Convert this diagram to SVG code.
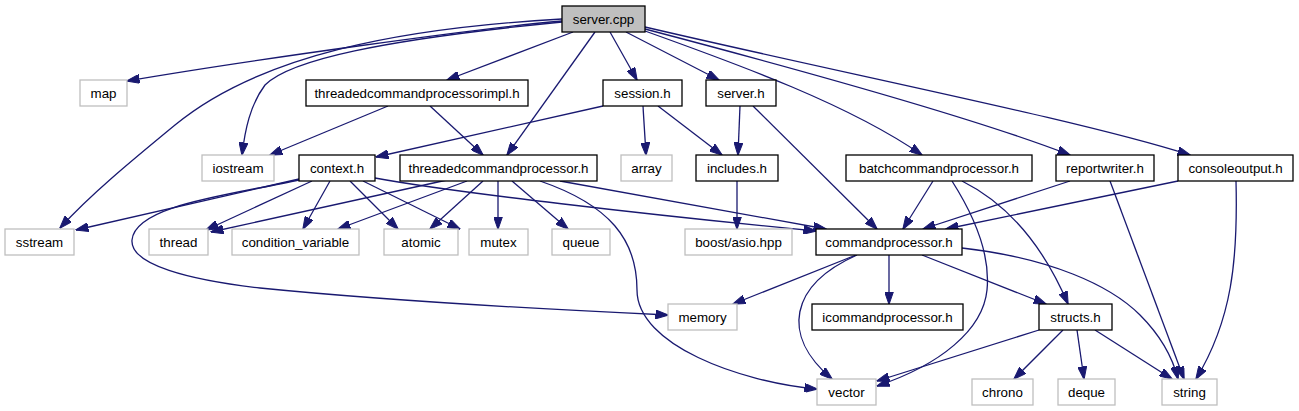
<svg xmlns="http://www.w3.org/2000/svg" width="1299" height="411" viewBox="0 0 1299 411">
<style>
.e{fill:none;stroke:#191970;stroke-width:1.3;marker-end:url(#ah)}
.n rect{fill:#ffffff;stroke:#000000;stroke-width:1.3}
.s rect{fill:#ffffff;stroke:#bfbfbf;stroke-width:1.3}
.r rect{fill:#bfbfbf;stroke:#000000;stroke-width:1.3}
text{font-family:"Liberation Sans",Arial,sans-serif;font-size:13.33px;fill:#000000;text-anchor:middle}
</style>
<defs>
<marker id="ah" viewBox="0 0 13 9" refX="12.5" refY="4.5" markerWidth="13" markerHeight="9" markerUnits="userSpaceOnUse" orient="auto">
<path d="M0,0 L13,4.5 L0,9 z" fill="#191970" stroke="#191970" stroke-width="1"/>
</marker>
</defs>
<rect width="1299" height="411" fill="#ffffff"/>
<g id="connectors">
<path class="e" d="M562,21 C480,28 250,60 127,81"/>
<path class="e" d="M562,19 C400,28 260,55 175,125 C130,162 90,195 60,228"/>
<path class="e" d="M562,22 C380,40 290,60 265,85 C250,105 245,130 242,155"/>
<path class="e" d="M573,32 L447,80"/>
<path class="e" d="M595,32 L507,155"/>
<path class="e" d="M610,32 L637,80"/>
<path class="e" d="M626,32 L719,80"/>
<path class="e" d="M645,31 C740,65 850,105 922,155"/>
<path class="e" d="M645,29 C820,75 980,120 1070,155"/>
<path class="e" d="M645,27 C850,75 1080,120 1190,155"/>
<path class="e" d="M388,106 L270,155"/>
<path class="e" d="M430,106 L483,155"/>
<path class="e" d="M603,106 L376,157"/>
<path class="e" d="M643,106 L646,155"/>
<path class="e" d="M658,106 L722,155"/>
<path class="e" d="M740,106 L738,155"/>
<path class="e" d="M753,106 L877,229"/>
<path class="e" d="M737,181 L737,229"/>
<path class="e" d="M299,179 L76,230"/>
<path class="e" d="M299,180 C230,195 135,205 132,240 C130,265 190,280 260,288 C400,302 560,310 668,315"/>
<path class="e" d="M312,181 L206,230"/>
<path class="e" d="M330,181 L303,229"/>
<path class="e" d="M350,181 L398,229"/>
<path class="e" d="M363,181 L460,229"/>
<path class="e" d="M375,178 C450,192 650,215 816,231"/>
<path class="e" d="M447,180 L211,232"/>
<path class="e" d="M467,181 L338,229"/>
<path class="e" d="M483,181 L430,229"/>
<path class="e" d="M498,181 L498,229"/>
<path class="e" d="M512,181 L568,229"/>
<path class="e" d="M560,181 L826,229"/>
<path class="e" d="M540,181 C610,205 637,240 637,290 C637,345 740,382 817,389"/>
<path class="e" d="M933,181 L903,229"/>
<path class="e" d="M962,181 C1010,205 1045,250 1068,304"/>
<path class="e" d="M952,181 C980,225 990,260 987,290 C983,330 940,365 877,386"/>
<path class="e" d="M1070,181 L923,229"/>
<path class="e" d="M1178,181 L946,229"/>
<path class="e" d="M1110,181 L1184,379"/>
<path class="e" d="M1236,181 C1238,260 1232,320 1196,379"/>
<path class="e" d="M856,255 L733,304"/>
<path class="e" d="M857,255 C790,285 780,335 832,379"/>
<path class="e" d="M889,255 L889,304"/>
<path class="e" d="M922,255 L1046,304"/>
<path class="e" d="M962,248 C1050,258 1110,285 1140,315 C1160,335 1172,355 1178,379"/>
<path class="e" d="M1039,330 L877,381"/>
<path class="e" d="M1063,330 L1014,379"/>
<path class="e" d="M1077,330 L1084,379"/>
<path class="e" d="M1095,330 L1172,379"/>
</g>
<g id="server_cpp" class="r"><rect x="562" y="6" width="83" height="26"/><text x="603.5" y="23.5">server.cpp</text></g>
<g id="map" class="s"><rect x="80" y="80" width="47" height="26"/><text x="103.5" y="97.5">map</text></g>
<g id="threadedcommandprocessorimpl_h" class="n"><rect x="306" y="80" width="222" height="26"/><text x="417" y="97.5">threadedcommandprocessorimpl.h</text></g>
<g id="session_h" class="n"><rect x="603" y="80" width="79" height="26"/><text x="642.5" y="97.5">session.h</text></g>
<g id="server_h" class="n"><rect x="706" y="80" width="70" height="26"/><text x="741" y="97.5">server.h</text></g>
<g id="iostream" class="s"><rect x="202" y="155" width="72" height="26"/><text x="238" y="172.5">iostream</text></g>
<g id="context_h" class="n"><rect x="299" y="155" width="76" height="26"/><text x="337" y="172.5">context.h</text></g>
<g id="threadedcommandprocessor_h" class="n"><rect x="400" y="155" width="197" height="26"/><text x="498.5" y="172.5">threadedcommandprocessor.h</text></g>
<g id="array" class="s"><rect x="621" y="155" width="51" height="26"/><text x="646.5" y="172.5">array</text></g>
<g id="includes_h" class="n"><rect x="696" y="155" width="82" height="26"/><text x="737" y="172.5">includes.h</text></g>
<g id="batchcommandprocessor_h" class="n"><rect x="846" y="155" width="186" height="26"/><text x="939" y="172.5">batchcommandprocessor.h</text></g>
<g id="reportwriter_h" class="n"><rect x="1056" y="155" width="98" height="26"/><text x="1105" y="172.5">reportwriter.h</text></g>
<g id="consoleoutput_h" class="n"><rect x="1178" y="155" width="115" height="26"/><text x="1235.5" y="172.5">consoleoutput.h</text></g>
<g id="sstream" class="s"><rect x="5" y="229" width="69" height="26"/><text x="39.5" y="246.5">sstream</text></g>
<g id="thread" class="s"><rect x="149" y="229" width="59" height="26"/><text x="178.5" y="246.5">thread</text></g>
<g id="condition_variable" class="s"><rect x="232" y="229" width="127" height="26"/><text x="295.5" y="246.5">condition_variable</text></g>
<g id="atomic" class="s"><rect x="384" y="229" width="74" height="26"/><text x="421" y="246.5">atomic</text></g>
<g id="mutex" class="s"><rect x="469" y="229" width="59" height="26"/><text x="498.5" y="246.5">mutex</text></g>
<g id="queue" class="s"><rect x="552" y="229" width="58" height="26"/><text x="581" y="246.5">queue</text></g>
<g id="boost_asio_hpp" class="s"><rect x="685" y="229" width="107" height="26"/><text x="738.5" y="246.5">boost/asio.hpp</text></g>
<g id="commandprocessor_h" class="n"><rect x="816" y="229" width="146" height="26"/><text x="889" y="246.5">commandprocessor.h</text></g>
<g id="memory" class="s"><rect x="668" y="304" width="69" height="26"/><text x="702.5" y="321.5">memory</text></g>
<g id="icommandprocessor_h" class="n"><rect x="812" y="304" width="151" height="26"/><text x="887.5" y="321.5">icommandprocessor.h</text></g>
<g id="structs_h" class="n"><rect x="1039" y="304" width="73" height="26"/><text x="1075.5" y="321.5">structs.h</text></g>
<g id="vector" class="s"><rect x="817" y="379" width="59" height="26"/><text x="846.5" y="396.5">vector</text></g>
<g id="chrono" class="s"><rect x="972" y="379" width="61" height="26"/><text x="1002.5" y="396.5">chrono</text></g>
<g id="deque" class="s"><rect x="1058" y="379" width="57" height="26"/><text x="1086.5" y="396.5">deque</text></g>
<g id="string" class="s"><rect x="1162" y="379" width="55" height="26"/><text x="1189.5" y="396.5">string</text></g>
</svg>
